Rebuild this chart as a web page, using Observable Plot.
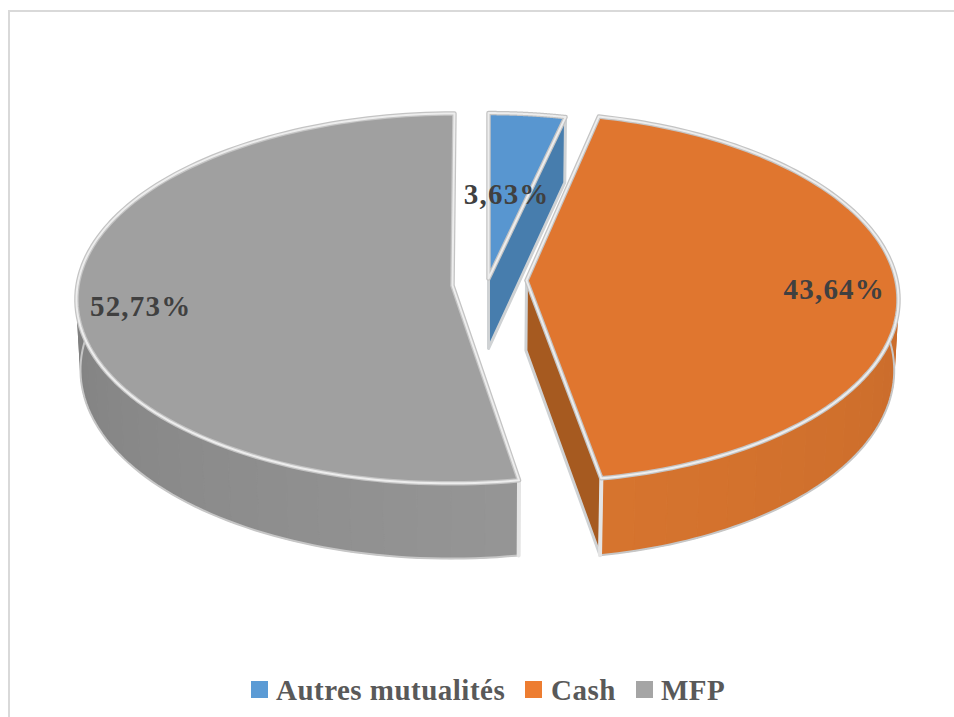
<!DOCTYPE html>
<html lang="fr">
<head>
<meta charset="utf-8">
<title>Répartition</title>
<script src="https://cdn.jsdelivr.net/npm/d3@7"></script>
<script src="https://cdn.jsdelivr.net/npm/@observablehq/plot@0.6"></script>
<style>
html,body{margin:0;padding:0;background:#fff;width:954px;height:717px;overflow:hidden}
#frame{position:absolute;left:8px;top:10px;width:946px;height:707px;border-left:2px solid #d9d9d9;border-top:2px solid #d9d9d9;box-sizing:border-box}
#chart{position:absolute;left:0;top:0}
#chart svg{display:block;background:transparent}
#legend{position:absolute;left:0;top:670px;width:954px;height:40px;font:bold 29px "Liberation Serif",serif;color:#595959;letter-spacing:.48px}
#legend .k{position:absolute;top:11px;width:17px;height:17px}
#legend .t{position:absolute;top:3px;line-height:34px;white-space:nowrap}
</style>
</head>
<body>
<div id="frame"></div>
<div id="chart"></div>
<div id="legend"></div>
<script>
const categories = ["Autres mutualités", "Cash", "MFP"];
const shares = [3.63, 43.64, 52.73];
const labels = ["3,63%", "43,64%", "52,73%"];

const topColors = ["#5896d0", "#e0762f", "#a0a0a0"];
const wallColors = ["#477dad", "#a65a20", null];
const keyColors = ["#5b9bd5", "#ed7d31", "#a5a5a5"];
const sideFrom = ["#4a80b4", "#d6742e", "#959595"];
const sideTo = ["#4a80b4", "#bd6328", "#6e6e6e"];

// perspective model of the exploded pie
const W = 954, H = 670, drop = 70, shrink = 0.99;
const geom = [
  {vx: 488, off: 0, ay: 278, ax: 364, by: 177, k: 0.07},
  {vx: 469, off: 57, ay: 280, ax: 370, by: 183, k: 0.09},
  {vx: 482, off: -30, ay: 285, ax: 375, by: 184, k: 0.07}
];
const labelRadius = [0.53, 0.83, 0.83];
const labelNudge = [[-3, 0], [0, -1], [0, 2]];

const total = d3.sum(shares);
let run = 0;
const arcs = shares.map((v) => {
  const a0 = (run / total) * 2 * Math.PI;
  run += v;
  return [a0, (run / total) * 2 * Math.PI];
});

function project(i, t, r, level) {
  const g = geom[i];
  const w = 1 + g.k * Math.cos(t) * r;
  let x = g.vx + (g.off + g.ax * Math.sin(t) * r) / w;
  let y = g.ay - g.by * Math.cos(t) * r / w;
  if (level) {
    x = g.vx + (x - g.vx) * shrink;
    y += drop / w;
  }
  return {x, y};
}
const sweep = (a, b, n) => d3.range(n + 1).map((j) => a + (b - a) * j / n);

const tops = [], walls = [], bands = [], outlines = [], corners = [];
categories.forEach((c, i) => {
  const [a0, a1] = arcs[i];
  const face = [project(i, 0, 0, 0), ...sweep(a0, a1, 120).map((t) => project(i, t, 1, 0)), project(i, 0, 0, 0)];
  face.forEach((p) => tops.push({...p, id: c, fill: topColors[i]}));
  const count = Math.max(2, Math.round((a1 - a0) / 0.085));
  const shade = d3.interpolateRgb(sideFrom[i], sideTo[i]);
  const edge = sweep(a0, a1, count);
  for (let j = 0; j < count; j++) {
    const id = c + j, f = d3.color(shade(i === 1 ? 1 - j / (count - 1) : j / (count - 1))).formatHex();
    const s = edge[j], e = edge[j + 1];
    [project(i, s, 1, 0), project(i, e, 1, 0), project(i, e, 1, 1), project(i, s, 1, 1), project(i, s, 1, 0)]
      .forEach((p) => bands.push({...p, id, fill: f}));
  }
  sweep(a0, a1, 120).forEach((t) => outlines.push({...project(i, t, 1, 1), id: c}));
  if (wallColors[i]) {
    [project(i, 0, 0, 0), project(i, a1, 1, 0), project(i, a1, 1, 1), project(i, 0, 0, 1), project(i, 0, 0, 0)]
      .forEach((p) => walls.push({...p, id: c, fill: wallColors[i]}));
  }
  if (i > 0) {
    const t = i === 1 ? a1 : a0;
    [project(i, t, 1, 0), project(i, t, 1, 1)].forEach((p) => corners.push({...p, id: c}));
  }
});

const marksFor = (name) => {
  const pick = (rows) => rows.filter((d) => d.id.startsWith(name));
  return [
    Plot.line(pick(bands), {x: "x", y: "y", z: "id", fill: {value: "fill", scale: null}, stroke: {value: "fill", scale: null}, strokeWidth: 1}),
    Plot.line(pick(outlines), {x: "x", y: "y", z: "id", stroke: "#c6c6c6", strokeWidth: 2}),
    Plot.line(pick(walls), {x: "x", y: "y", z: "id", fill: {value: "fill", scale: null}, stroke: "#cfd2d4", strokeWidth: 3}),
    Plot.line(pick(corners), {x: "x", y: "y", z: "id", stroke: "#e4e4e4", strokeWidth: 4}),
    Plot.line(pick(tops), {x: "x", y: "y", z: "id", fill: {value: "fill", scale: null}, stroke: "#c4c4c4", strokeWidth: 4.5}),
    Plot.line(pick(tops), {x: "x", y: "y", z: "id", stroke: "#ededed", strokeWidth: 2})
  ];
};

const texts = categories.map((c, i) => {
  const mid = (arcs[i][0] + arcs[i][1]) / 2;
  const p = project(i, mid, labelRadius[i], 0);
  return {x: p.x + labelNudge[i][0], y: p.y + labelNudge[i][1], label: labels[i]};
});

const plot = Plot.plot({
  width: W,
  height: H,
  margin: 0,
  style: {background: "transparent"},
  x: {domain: [0, W], range: [0, W], axis: null},
  y: {domain: [0, H], range: [0, H], axis: null},
  marks: [
    ...marksFor(categories[0]),
    ...marksFor(categories[2]),
    ...marksFor(categories[1]),
    Plot.text(texts, {
      x: "x", y: "y", text: "label", dy: 6,
      fontFamily: "Liberation Serif", fontWeight: "bold", fontSize: 29, fill: "#404040"
    })
  ]
});
plot.querySelectorAll("text").forEach((t) => t.setAttribute("letter-spacing", "1.2"));
document.getElementById("chart").append(plot);

const keyLeft = [251, 525, 636], textLeft = [276, 551, 661];
const legend = document.getElementById("legend");
categories.forEach((c, i) => {
  const k = document.createElement("span");
  k.className = "k"; k.style.left = keyLeft[i] + "px"; k.style.background = keyColors[i];
  const t = document.createElement("span");
  t.className = "t"; t.style.left = textLeft[i] + "px"; t.textContent = c;
  legend.append(k, t);
});
</script>
</body>
</html>
